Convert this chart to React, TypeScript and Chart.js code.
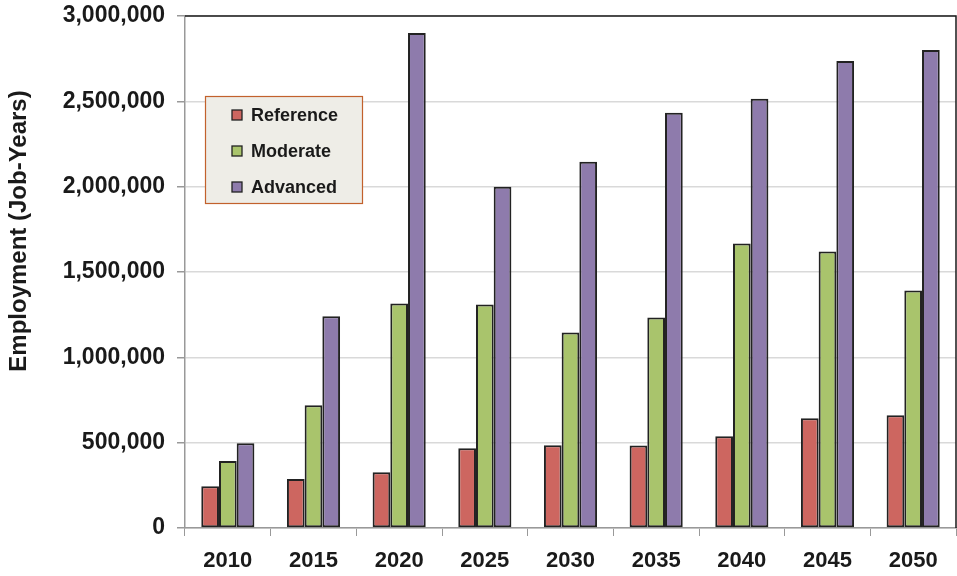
import React, { useEffect, useRef } from "react";
import { Chart, registerables } from "chart.js";

Chart.register(...registerables);

const years = ["2010", "2015", "2020", "2025", "2030", "2035", "2040", "2045", "2050"];
const reference = [245000, 287000, 327000, 468000, 485000, 483000, 538000, 643000, 661000];
const moderate = [392000, 719000, 1316000, 1310000, 1146000, 1234000, 1667000, 1620000, 1392000];
const advanced = [497000, 1240000, 2900000, 2000000, 2146000, 2433000, 2515000, 2737000, 2801000];
const seriesNames = ["Reference", "Moderate", "Advanced"];
const seriesColors = ["#CD6660", "#A9C46C", "#8E7BAC"];
const yTitle = "Employment (Job-Years)";

const FONT = "'Liberation Sans', Arial, Helvetica, sans-serif";

const framePlugin = {
  id: "frame",
  afterDraw(chart: any) {
    const { ctx, chartArea } = chart;
    ctx.save();
    ctx.strokeStyle = "#1a1a1a";
    ctx.lineWidth = 1.5;
    ctx.beginPath();
    ctx.moveTo(chartArea.left, chartArea.top);
    ctx.lineTo(chartArea.right, chartArea.top);
    ctx.lineTo(chartArea.right, chartArea.bottom);
    ctx.stroke();

    // y-axis title
    ctx.save();
    ctx.translate(19, (chartArea.top + chartArea.bottom) / 2 - 41);
    ctx.rotate(-Math.PI / 2);
    ctx.font = `bold 24px ${FONT}`;
    ctx.fillStyle = "#1a1a1a";
    ctx.textAlign = "center";
    ctx.textBaseline = "middle";
    ctx.fillText(yTitle, 0, 0);
    ctx.restore();

    // legend box
    const bx = chartArea.left + 20;
    const by = chartArea.top + 80;
    const bw = 157;
    const bh = 107;
    ctx.fillStyle = "#EEEDE7";
    ctx.fillRect(bx, by, bw, bh);
    ctx.strokeStyle = "#C2612C";
    ctx.lineWidth = 1.2;
    ctx.strokeRect(bx + 0.5, by + 0.5, bw, bh);
    ctx.font = `bold 18px ${FONT}`;
    ctx.textBaseline = "middle";
    ctx.textAlign = "left";
    chart.data.datasets.forEach((ds: any, i: number) => {
      const cy = by + 19 + i * 36;
      ctx.fillStyle = ds.backgroundColor;
      ctx.fillRect(bx + 27, cy - 5, 10, 10);
      ctx.strokeStyle = "#222";
      ctx.lineWidth = 1.3;
      ctx.strokeRect(bx + 27, cy - 5, 10, 10);
      ctx.fillStyle = "#1a1a1a";
      ctx.fillText(ds.label, bx + 46, cy + 1);
    });
    ctx.restore();
  },
};

export default function App() {
  const ref = useRef<HTMLCanvasElement | null>(null);
  useEffect(() => {
    document.body.style.margin = "0";
    const canvas = ref.current;
    if (!canvas) return;
    const datasets = [reference, moderate, advanced].map((d, i) => ({
      label: seriesNames[i],
      data: d,
      backgroundColor: seriesColors[i],
      borderColor: "#222222",
      borderWidth: 2,
      borderSkipped: false as const,
      barPercentage: 1,
      categoryPercentage: 0.62,
    }));
    const chart = new Chart(canvas, {
      type: "bar",
      data: { labels: years, datasets },
      options: {
        animation: false,
        responsive: false,
        maintainAspectRatio: false,
        layout: { padding: { top: 16, right: 1, left: 0, bottom: 0 } },
        plugins: { legend: { display: false }, tooltip: { enabled: false } },
        scales: {
          x: {
            grid: {
              offset: true,
              drawOnChartArea: false,
              drawTicks: true,
              tickLength: 8,
              tickColor: "#999999",
            },
            border: { color: "#999999", width: 1.5 },
            ticks: {
              color: "#1a1a1a",
              font: { family: FONT, size: 22, weight: "bold" },
              padding: 12,
              maxRotation: 0,
            },
            afterFit(scale: any) {
              scale.height = 48;
              scale.paddingLeft = 0;
              scale.paddingRight = 0;
            },
          },
          y: {
            min: 0,
            max: 3000000,
            grid: {
              color: "#D9D9D9",
              lineWidth: 1.5,
              tickLength: 8,
              tickColor: "#999999",
            },
            border: { color: "#999999", width: 1.5 },
            ticks: {
              stepSize: 500000,
              color: "#1a1a1a",
              font: { family: FONT, size: 23, weight: "bold" },
              padding: 12,
              callback: (v: any) => Number(v).toLocaleString("en-US"),
            },
            afterFit(scale: any) {
              scale.width = 185;
              scale.paddingTop = 0;
              scale.paddingBottom = 0;
            },
          },
        },
      },
      plugins: [framePlugin],
    });
    return () => chart.destroy();
  }, []);
  return (
    <div style={{ width: 957, height: 576, background: "#fff" }}>
      <canvas ref={ref} width={957} height={576} style={{ display: "block" }} />
    </div>
  );
}
